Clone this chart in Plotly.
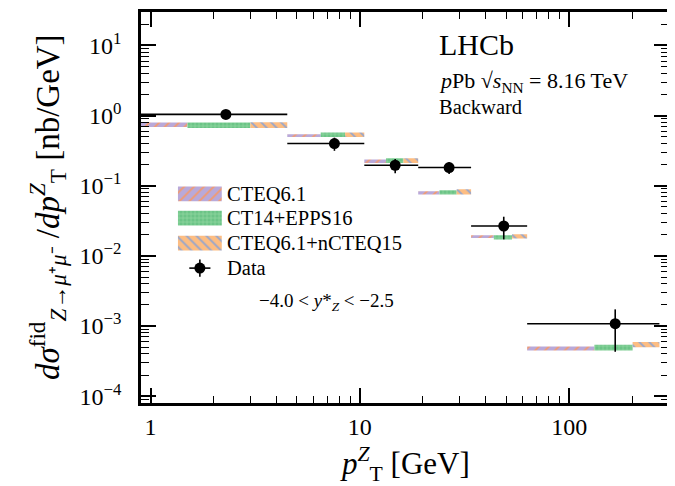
import numpy as np
import plotly.graph_objects as go

# ---------------- data ----------------
bin_lo = [0.0, 4.5, 10.5, 19.0, 34.0, 63.0]
bin_hi = [4.5, 10.5, 19.0, 34.0, 63.0, 270.0]

data_x = [2.29, 7.56, 14.75, 26.7, 48.7, 166.0]
data_y = [1.04, 0.40, 0.196, 0.182, 0.0267, 0.00108]
data_err = [0.10, 0.085, 0.045, 0.035, 0.0095, 0.00065]

cteq61_lo = [0.690, 0.497, 0.211, 0.0749, 0.0180, 4.50e-4]
cteq61_hi = [0.797, 0.543, 0.236, 0.0835, 0.0197, 5.13e-4]
epps16_lo = [0.668, 0.497, 0.211, 0.0749, 0.0171, 4.50e-4]
epps16_hi = [0.797, 0.574, 0.247, 0.0863, 0.0197, 5.43e-4]
ncteq15_lo = [0.668, 0.497, 0.211, 0.0749, 0.0177, 5.00e-4]
ncteq15_hi = [0.805, 0.574, 0.247, 0.0891, 0.0203, 5.91e-4]

model_names = ["CTEQ6.1", "CT14+EPPS16", "CTEQ6.1+nCTEQ15"]
data_name = "Data"

x_major = [1, 10, 100]
x_major_text = ["1", "10", "100"]
y_major = [1e-4, 1e-3, 1e-2, 1e-1, 1e0, 1e1]
y_major_text = ["10<sup>−4</sup>", "10<sup>−3</sup>", "10<sup>−2</sup>",
                "10<sup>−1</sup>", "10<sup>0</sup>", "10<sup>1</sup>"]

X_RANGE = (0.9, 300.0)
Y_RANGE = (8e-5, 30.0)

FONT = "Liberation Serif"

# styles for the three model bands
PATTERNS = [
    dict(shape="/", bgcolor="#b9a9d9", fgcolor="#f39a6e", size=7, solidity=0.25),
    dict(shape="+", bgcolor="#6cc487", fgcolor="#93d8a3", size=4, solidity=0.3),
    dict(shape="\\", bgcolor="#fdbd82", fgcolor="#93a5cf", size=7, solidity=0.25),
]

# ---------------- helpers ----------------
def band_polys(k, lo, hi):
    xs, ys = [], []
    for i in range(len(bin_lo)):
        w = (bin_hi[i] - bin_lo[i]) / 3.0
        a = max(bin_lo[i] + k * w, X_RANGE[0])
        b = bin_lo[i] + (k + 1) * w
        xs += [a, b, b, a, a, None]
        ys += [lo[i], lo[i], hi[i], hi[i], lo[i], None]
    return xs, ys

def minor_vals(lo_exp, hi_exp, vmin, vmax):
    out = []
    for e in range(lo_exp, hi_exp + 1):
        for m in range(2, 10):
            v = m * 10.0 ** e
            if vmin <= v <= vmax:
                out.append(v)
    return out

def fill_pattern(p):
    return dict(shape=p["shape"], bgcolor=p["bgcolor"], fgcolor=p["fgcolor"],
                size=p["size"], solidity=p["solidity"], fillmode="replace")

fig = go.Figure()

bands = [(cteq61_lo, cteq61_hi), (epps16_lo, epps16_hi), (ncteq15_lo, ncteq15_hi)]
for k, ((lo, hi), name, pat) in enumerate(zip(bands, model_names, PATTERNS)):
    xs, ys = band_polys(k, lo, hi)
    fig.add_trace(go.Scatter(
        x=xs, y=ys, mode="lines", fill="toself", name=name,
        line=dict(width=0, color=pat["bgcolor"]),
        fillcolor=pat["bgcolor"], fillpattern=fill_pattern(pat),
        hoverinfo="skip", showlegend=False,
    ))

ex_minus = [x - max(l, X_RANGE[0]) for x, l in zip(data_x, bin_lo)]
ex_plus = [h - x for x, h in zip(data_x, bin_hi)]

fig.add_trace(go.Scatter(
    x=data_x, y=data_y, mode="markers", name=data_name,
    marker=dict(color="black", size=11),
    error_x=dict(type="data", array=ex_plus, arrayminus=ex_minus,
                 color="black", thickness=1.6, width=0),
    error_y=dict(type="data", array=data_err, color="black",
                 thickness=1.6, width=0),
    showlegend=False,
))

# ---------------- legend (drawn on a hidden overlay axis in plot-fraction units) ----------------
LEG_X0, LEG_X1 = 0.070, 0.153      # swatch left / right
LEG_TEXT_X = 0.160
LEG_ROWS = [0.535, 0.473, 0.409, 0.345]
LEG_HALF_H = 0.019

for (name, pat), yc in zip(zip(model_names, PATTERNS), LEG_ROWS[:3]):
    fig.add_trace(go.Scatter(
        x=[LEG_X0, LEG_X1, LEG_X1, LEG_X0, LEG_X0],
        y=[yc - LEG_HALF_H, yc - LEG_HALF_H, yc + LEG_HALF_H, yc + LEG_HALF_H, yc - LEG_HALF_H],
        xaxis="x2", yaxis="y2", mode="lines", fill="toself",
        line=dict(width=0, color=pat["bgcolor"]), fillcolor=pat["bgcolor"],
        fillpattern=fill_pattern(pat), hoverinfo="skip", showlegend=False,
    ))
fig.add_trace(go.Scatter(
    x=[(LEG_X0 + LEG_X1) / 2], y=[LEG_ROWS[3]], xaxis="x2", yaxis="y2",
    mode="markers", marker=dict(color="black", size=11),
    error_x=dict(type="constant", value=0.020, color="black", thickness=1.6, width=0),
    error_y=dict(type="constant", value=0.022, color="black", thickness=1.6, width=0),
    hoverinfo="skip", showlegend=False,
))
for name, yc in zip(model_names + [data_name], LEG_ROWS):
    fig.add_annotation(text=name, x=LEG_TEXT_X, y=yc, xref="x2", yref="y2",
                       xanchor="left", yanchor="middle", showarrow=False,
                       font=dict(family=FONT, size=20.5, color="black"))

# ---------------- axes ----------------
axis_common = dict(
    type="log", showline=True, linecolor="black", linewidth=2.5,
    mirror="allticks", ticks="inside", ticklen=15, tickwidth=1.6,
    tickcolor="black", showgrid=False, zeroline=False, automargin=False,
    tickfont=dict(family=FONT, size=24, color="black"),
)

xaxis = dict(
    **axis_common,
    range=[np.log10(X_RANGE[0]), np.log10(X_RANGE[1])],
    tickmode="array", tickvals=x_major, ticktext=x_major_text,
    ticklabelstandoff=0,
    minor=dict(tickmode="array", tickvals=minor_vals(-1, 2, X_RANGE[0], X_RANGE[1]),
               ticks="inside", ticklen=7, tickwidth=1.4, tickcolor="black",
               showgrid=False),
)
yaxis = dict(
    **axis_common,
    range=[np.log10(Y_RANGE[0]), np.log10(Y_RANGE[1])],
    tickmode="array", tickvals=y_major, ticktext=y_major_text,
    ticklabelstandoff=12,
    minor=dict(tickmode="array", tickvals=minor_vals(-5, 1, Y_RANGE[0], Y_RANGE[1]),
               ticks="inside", ticklen=8, tickwidth=1.4, tickcolor="black",
               showgrid=False),
)

fig.update_layout(
    xaxis=xaxis, yaxis=yaxis,
    xaxis2=dict(overlaying="x", range=[0, 1], visible=False, fixedrange=True),
    yaxis2=dict(overlaying="y", range=[0, 1], visible=False, fixedrange=True),
)

# ---------------- axis titles and labels ----------------
fig.add_annotation(
    text="<i>p</i><sup><i>Z</i></sup><sub>T</sub> [GeV]",
    x=0.5, y=-0.157, xref="paper", yref="paper", xanchor="center", yanchor="middle",
    showarrow=False, font=dict(family=FONT, size=31, color="black"))
fig.add_annotation(
    text="<i>dσ</i><sup>fid</sup><sub><i>Z</i>→<i>μ</i>⁺<i>μ</i>⁻</sub> /<i>dp</i><sup><i>Z</i></sup><sub>T</sub> [nb/GeV]",
    x=-0.177, y=0.5, xref="paper", yref="paper", xanchor="center", yanchor="middle",
    textangle=-90, showarrow=False, font=dict(family=FONT, size=33, color="black"))

annots = [
    dict(text="LHCb", x=0.56, y=0.918, size=30),
    dict(text="<i>p</i>Pb √<i>s</i><sub>NN</sub> = 8.16 TeV", x=0.56, y=0.822, size=22),
    dict(text="Backward", x=0.56, y=0.758, size=20.5),
    dict(text="−4.0 < <i>y</i>*<sub><i>Z</i></sub> < −2.5", x=0.22, y=0.258, size=19),
]
for a in annots:
    fig.add_annotation(text=a["text"], x=a["x"], y=a["y"], xref="paper", yref="paper",
                       xanchor="left", yanchor="middle", showarrow=False,
                       font=dict(family=FONT, size=a["size"], color="black"))

# the page adds an 8 px body margin, so the figure is 8 px smaller on each side
fig.update_layout(
    width=667, height=478,
    margin=dict(l=133, r=6, t=4, b=83),
    paper_bgcolor="white", plot_bgcolor="white",
    font=dict(family=FONT, color="black"),
    showlegend=False,
)

fig.write_html("out.html")
